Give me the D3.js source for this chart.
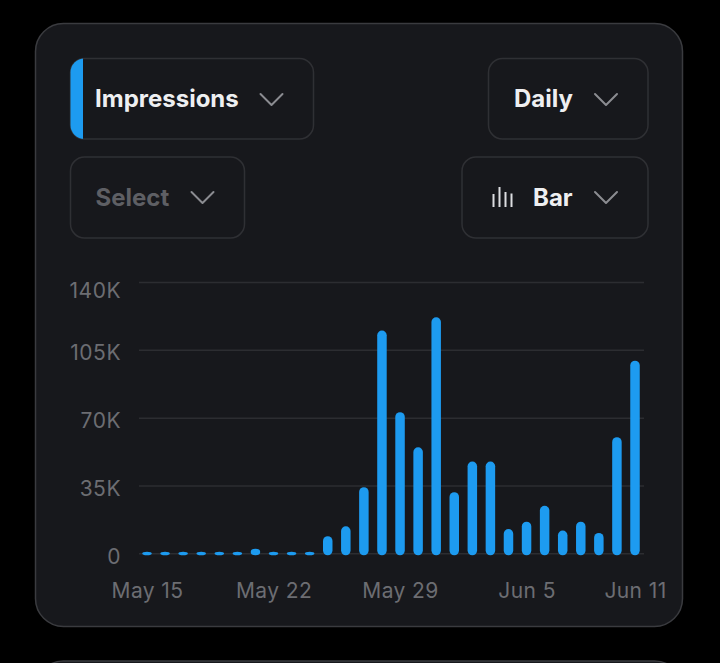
<!DOCTYPE html>
<html>
<head>
<meta charset="utf-8">
<script src="https://cdn.jsdelivr.net/npm/d3@7"></script>
<style>
  html, body { margin: 0; padding: 0; background: #000; }
  svg { display: block; font-family: Inter, "Noto Sans", sans-serif; }
</style>
</head>
<body>
<script>
// daily impressions, May 15 - Jun 11
var dates = ["2023-05-15","2023-05-16","2023-05-17","2023-05-18","2023-05-19","2023-05-20","2023-05-21",
  "2023-05-22","2023-05-23","2023-05-24","2023-05-25","2023-05-26","2023-05-27","2023-05-28",
  "2023-05-29","2023-05-30","2023-05-31","2023-06-01","2023-06-02","2023-06-03","2023-06-04",
  "2023-06-05","2023-06-06","2023-06-07","2023-06-08","2023-06-09","2023-06-10","2023-06-11"];
var impressions = [0, 0, 0, 0, 0, 0, 1800,
  0, 0, 0, 8300, 13400, 33600, 114400,
  72300, 54200, 121300, 31000, 46800, 46800, 12000,
  15800, 24000, 11200, 15800, 10000, 59400, 98900];
var yTicks = [0, 35000, 70000, 105000, 140000];
var yTickLabels = ["0", "35K", "70K", "105K", "140K"];
var xTicks = ["2023-05-15", "2023-05-22", "2023-05-29", "2023-06-05", "2023-06-11"];
var xTickLabels = ["May 15", "May 22", "May 29", "Jun 5", "Jun 11"];

var parse = d3.timeParse("%Y-%m-%d");
var data = dates.map(function(d, i) { return { date: parse(d), value: impressions[i] }; });

var svg = d3.select("body").append("svg").attr("width", 720).attr("height", 663);

// cards
svg.append("rect").attr("x", 35.5).attr("y", 23.5).attr("width", 647).attr("height", 603).attr("rx", 28)
  .style("fill", "#17181c").style("stroke", "#3a3b3f").style("stroke-width", 1.5);
svg.append("rect").attr("x", 35.5).attr("y", 661).attr("width", 647).attr("height", 300).attr("rx", 28)
  .style("fill", "#17181c").style("stroke", "#3a3b3f").style("stroke-width", 1.5);

// dropdown buttons
function chevron(cx, cy) {
  svg.append("path").attr("d", "M" + (cx - 11) + "," + (cy - 5.5) + "L" + cx + "," + (cy + 5.5) + "L" + (cx + 11) + "," + (cy - 5.5))
    .style("fill", "none").style("stroke", "#8b8c91").style("stroke-width", 2).style("stroke-linecap", "round").style("stroke-linejoin", "round");
}
function button(x, y, w, h) {
  return svg.append("rect").attr("x", x).attr("y", y).attr("width", w).attr("height", h).attr("rx", 14)
    .style("fill", "#17181c").style("stroke", "#2f3034").style("stroke-width", 1.5);
}

button(70.5, 58.5, 243, 80.5);
svg.append("clipPath").attr("id", "impClip").append("rect")
  .attr("x", 70.5).attr("y", 58.5).attr("width", 243).attr("height", 80.5).attr("rx", 14);
svg.append("rect").attr("x", 70).attr("y", 58).attr("width", 13).attr("height", 82)
  .attr("clip-path", "url(#impClip)").style("fill", "#1d9bf0");
svg.append("text").attr("x", 95).attr("y", 107).text("Impressions")
  .style("fill", "#eeeff1").style("font-size", "24px").style("font-weight", 700);
chevron(271.5, 99.5);

button(488.5, 58.5, 159.5, 80.5);
svg.append("text").attr("x", 514).attr("y", 107).text("Daily")
  .style("fill", "#eeeff1").style("font-size", "24px").style("font-weight", 700);
chevron(606, 99.5);

button(70.5, 157, 174, 81);
svg.append("text").attr("x", 95.5).attr("y", 205.5).text("Select")
  .style("fill", "#5e5f64").style("font-size", "24px").style("font-weight", 700);
chevron(202.5, 197.5);

button(462, 157, 186, 81);
var iconBars = [[493.5, 194], [499.5, 187], [505.5, 192], [511.5, 193.5]];
iconBars.forEach(function(b) {
  svg.append("line").attr("x1", b[0]).attr("x2", b[0]).attr("y1", b[1]).attr("y2", 207)
    .style("stroke", "#dcdde0").style("stroke-width", 2);
});
svg.append("text").attr("x", 533).attr("y", 205.5).text("Bar")
  .style("fill", "#eeeff1").style("font-size", "24px").style("font-weight", 700);
chevron(606, 197.5);

// chart
var x = d3.scaleTime().domain([parse(dates[0]), parse(dates[dates.length - 1])]).range([147, 635]);
var y = d3.scaleLinear().domain([0, 140000]).range([553.3, 282]);

var yAxis = d3.axisLeft(y).tickValues(yTicks).tickSize(-505)
  .tickFormat(function(d, i) { return yTickLabels[i]; });
var gy = svg.append("g").attr("transform", "translate(139,0)").call(yAxis);
gy.select(".domain").remove();
gy.selectAll(".tick line").style("stroke", "#2c2d31").style("stroke-width", 1.5);
gy.selectAll(".tick text").attr("x", -18)
  .attr("dy", function(d) { return (Math.max(y(d) + 2.3, 290) - y(d)) + "px"; })
  .attr("dominant-baseline", "central")
  .style("fill", "#6c6d72").style("font-size", "21px").style("letter-spacing", "0.5px")
  .style("font-family", "Inter, sans-serif");

var xAxis = d3.axisBottom(x).tickValues(xTicks.map(parse)).tickSize(0)
  .tickFormat(function(d, i) { return xTickLabels[i]; });
var gx = svg.append("g").attr("transform", "translate(0,553)").call(xAxis);
gx.select(".domain").remove();
gx.selectAll(".tick text").attr("y", 45).attr("dy", 0)
  .style("fill", "#6c6d72").style("font-size", "21px").style("letter-spacing", "0.4px")
  .style("font-family", "Inter, sans-serif");

svg.append("g").selectAll("rect").data(data).enter().append("rect")
  .attr("x", function(d) { return x(d.date) - 4.75; })
  .attr("width", 9.5)
  .attr("y", function(d) { return Math.min(y(d.value) - 1, y(0) - 1.5); })
  .attr("height", function(d) { return y(0) + 2 - Math.min(y(d.value) - 1, y(0) - 1.5); })
  .attr("rx", 4.75)
  .style("fill", "#1d9bf0");
</script>
</body>
</html>
